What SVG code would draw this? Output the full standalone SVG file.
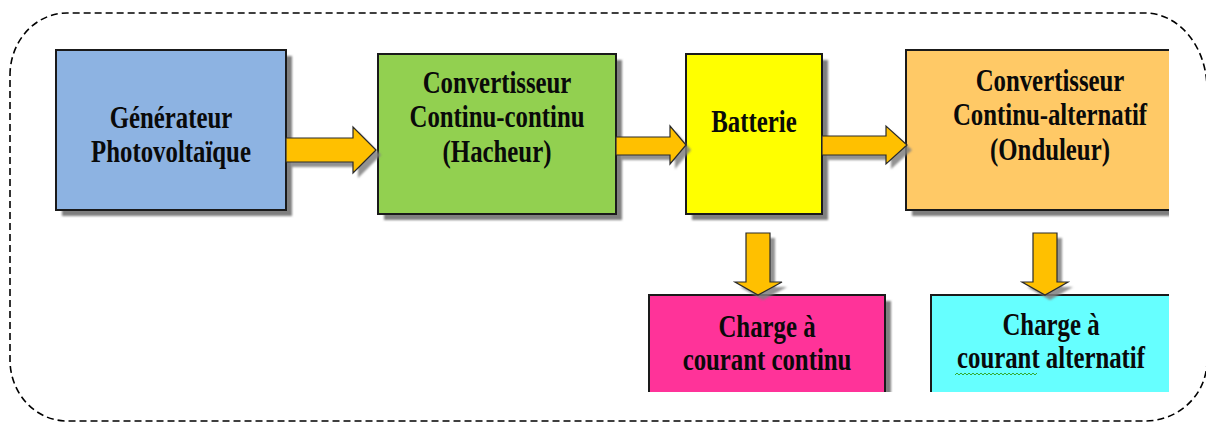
<svg xmlns="http://www.w3.org/2000/svg" width="1206" height="423" viewBox="0 0 1206 423">
<style>
.box{stroke:#1a1a1a;stroke-width:2}
.shd{fill:#7f7f7f}
.arr{fill:#FFC000;stroke:#2a2a2a;stroke-width:1.2;stroke-linejoin:miter}
.ashd{fill:#7f7f7f;opacity:0.85}
.t{font-family:"Liberation Serif","Times New Roman",serif;font-weight:bold;font-size:31px;fill:#0a0a0a;text-anchor:middle}
</style>
<defs>
<clipPath id="clip"><rect x="0" y="0" width="1169" height="392"/></clipPath>
<filter id="blur" x="-10%" y="-10%" width="120%" height="120%"><feGaussianBlur stdDeviation="1"/></filter>
</defs>
<rect x="0" y="0" width="1206" height="423" fill="#fff"/>
<path d="M10,75 A57,62 0 0 1 67,13 H1145 A62,76 0 0 1 1207,89 V361 A62,60 0 0 1 1145,421 H67 A57,61 0 0 1 10,360 Z" fill="none" stroke="#000" stroke-width="1.6" stroke-dasharray="7 4"/>
<g clip-path="url(#clip)">
<g id="generateur">
<rect class="shd" x="62" y="56" width="230" height="160" filter="url(#blur)"/>
<rect class="box" x="56" y="50" width="230" height="160" fill="#8DB3E2"/>
<text class="t" transform="translate(171,0) scale(0.8,1)"><tspan x="0" y="128">Générateur</tspan><tspan x="0" y="162">Photovoltaïque</tspan></text>
</g>
<g id="hacheur">
<rect class="shd" x="384" y="60" width="238" height="160" filter="url(#blur)"/>
<rect class="box" x="378" y="54" width="238" height="160" fill="#92D050"/>
<text class="t" transform="translate(497,0) scale(0.8,1)"><tspan x="0" y="93">Convertisseur</tspan><tspan x="0" y="127">Continu-continu</tspan><tspan x="0" y="162">(Hacheur)</tspan></text>
</g>
<g id="batterie">
<rect class="shd" x="692" y="60" width="136" height="160" filter="url(#blur)"/>
<rect class="box" x="686" y="54" width="136" height="160" fill="#FFFF00"/>
<text class="t" transform="translate(754,0) scale(0.8,1)"><tspan x="0" y="132">Batterie</tspan></text>
</g>
<g id="onduleur">
<rect class="shd" x="912" y="56" width="300" height="160" filter="url(#blur)"/>
<rect class="box" x="906" y="50" width="300" height="160" fill="#FFC966"/>
<text class="t" transform="translate(1050,0) scale(0.8,1)"><tspan x="0" y="91">Convertisseur</tspan><tspan x="0" y="125">Continu-alternatif</tspan><tspan x="0" y="160">(Onduleur)</tspan></text>
</g>
<g id="charge-continu">
<rect class="shd" x="655" y="301" width="236" height="120" filter="url(#blur)"/>
<rect class="box" x="649" y="295" width="236" height="120" fill="#FF3399"/>
<text class="t" transform="translate(767,0) scale(0.8,1)"><tspan x="0" y="337">Charge à</tspan><tspan x="0" y="370">courant continu</tspan></text>
</g>
<g id="charge-alternatif">
<rect class="shd" x="937" y="301" width="260" height="120" filter="url(#blur)"/>
<rect class="box" x="931" y="295" width="260" height="120" fill="#66FFFF"/>
<text class="t" transform="translate(1051,0) scale(0.8,1)"><tspan x="0" y="335">Charge à</tspan><tspan x="0" y="368">courant alternatif</tspan></text>
<path d="M955,375 l2,-2 l2,2 l2,-2 l2,2 l2,-2 l2,2 l2,-2 l2,2 l2,-2 l2,2 l2,-2 l2,2 l2,-2 l2,2 l2,-2 l2,2 l2,-2 l2,2 l2,-2 l2,2 l2,-2 l2,2 l2,-2 l2,2 l2,-2 l2,2 l2,-2 l2,2 l2,-2 l2,2 l2,-2 l2,2 l2,-2 l2,2 l2,-2 l2,2 l2,-2 l2,2 l2,-2 l2,2 l2,-2" fill="none" stroke="#33aa33" stroke-width="1"/>
</g>
</g>
<g id="connectors">
<g transform="translate(5,5)" filter="url(#blur)">
<polygon class="ashd" points="286,138 353,138 353,127 376,150 353,173 353,162 286,162"/>
<polygon class="ashd" points="616,137 670,137 670,126 686,145 670,164 670,155 616,155"/>
<polygon class="ashd" points="822,136 886,136 886,126 907,145 886,164 886,155 822,155"/>
<polygon class="ashd" points="746,233 770,233 770,282 782,282 758,295 735,282 746,282"/>
<polygon class="ashd" points="1033,233 1057,233 1057,282 1068,282 1045,295 1022,282 1033,282"/>
</g>
<polygon class="arr" points="286,138 353,138 353,127 376,150 353,173 353,162 286,162"/>
<polygon class="arr" points="616,137 670,137 670,126 686,145 670,164 670,155 616,155"/>
<polygon class="arr" points="822,136 886,136 886,126 907,145 886,164 886,155 822,155"/>
<polygon class="arr" points="746,233 770,233 770,282 782,282 758,295 735,282 746,282"/>
<polygon class="arr" points="1033,233 1057,233 1057,282 1068,282 1045,295 1022,282 1033,282"/>
</g>
</svg>
